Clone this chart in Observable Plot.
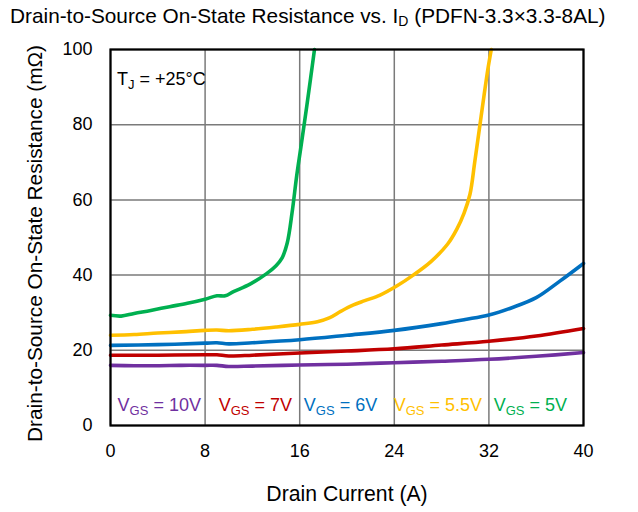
<!DOCTYPE html>
<html>
<head>
<meta charset="utf-8">
<script src="https://cdn.jsdelivr.net/npm/d3@7"></script>
<script src="https://cdn.jsdelivr.net/npm/@observablehq/plot@0.6"></script>
<style>
  html, body { margin: 0; padding: 0; background: #fff; }
  body { width: 638px; height: 512px; overflow: hidden; font-family: "Liberation Sans", Arial, sans-serif; }
  #title { height: 30px; font-size: 20.8px; line-height: 32px; padding-left: 10px; color: #000; white-space: nowrap; }
  #title sub { font-size: 14px; vertical-align: -3px; line-height: 0; }
  #chart svg { display: block; }
</style>
</head>
<body>
<div id="title">Drain-to-Source On-State Resistance vs. I<sub>D</sub> (PDFN-3.3×3.3-8AL)</div>
<div id="chart"></div>
<script>
// Drain current (A) and on-state resistance (mΩ) for each gate drive
const vgs10I = [0, 2, 4, 6, 8, 9, 10, 12, 16, 20, 24, 28, 32, 36, 40];
const vgs10R = [16.0, 15.9, 15.9, 16.0, 16.0, 16.0, 15.7, 15.8, 16.1, 16.3, 16.7, 17.1, 17.6, 18.4, 19.4];

const vgs7I = [0, 4, 8, 9, 10, 12, 16, 20, 24, 28, 32, 36, 40];
const vgs7R = [18.7, 18.7, 18.8, 18.8, 18.5, 18.7, 19.3, 19.8, 20.4, 21.4, 22.4, 23.8, 25.8];

const vgs6I = [0, 4, 8, 9, 10, 12, 16, 20, 24, 28, 30, 32, 34, 36, 38, 40];
const vgs6R = [21.3, 21.5, 21.9, 22.0, 21.7, 22.0, 22.8, 24.0, 25.3, 27.1, 28.2, 29.4, 31.4, 34.0, 38.4, 43.1];

const vgs55I = [0, 2, 4, 6, 8, 9, 10, 12, 14, 16, 17.5, 18.5, 19.5, 20.5, 21.5, 22.8, 24.2, 25.6, 27.1, 28.5, 29.3, 29.9, 30.4, 30.8, 31.2, 31.6, 31.9, 32.2];
const vgs55R = [24.0, 24.2, 24.6, 24.9, 25.3, 25.4, 25.2, 25.6, 26.2, 26.9, 27.6, 28.6, 30.4, 32.0, 33.2, 34.7, 37.1, 40.0, 43.6, 48.2, 52.3, 56.5, 61.5, 70.0, 79.0, 88.0, 94.5, 100];

const vgs5I = [0, 0.9, 2, 3.4, 5, 6.5, 8, 9, 9.7, 10.4, 11.8, 13.2, 14.0, 14.5, 14.95, 15.35, 15.75, 16.1, 16.6, 16.95, 17.25];
const vgs5R = [29.3, 29.1, 29.8, 30.6, 31.6, 32.5, 33.6, 34.5, 34.5, 35.6, 37.6, 40.4, 42.5, 44.5, 48.6, 56.5, 66.5, 74.0, 85.0, 93.0, 100];

const seriesNames = ["V_{GS} = 10V", "V_{GS} = 7V", "V_{GS} = 6V", "V_{GS} = 5.5V", "V_{GS} = 5V"];
const seriesColors = ["#7030A0", "#C00000", "#0070C0", "#FFC000", "#00B050"];
const legendX = [0.6, 9.15, 16.35, 23.95, 32.4]; // label start, in amps

const xTicks = [0, 8, 16, 24, 32, 40];
const yTicks = [0, 20, 40, 60, 80, 100];

const xLabel = "Drain Current (A)";
const yLabel = "Drain-to-Source On-State Resistance (mΩ)";
const tempNote = "T_{J} = +25°C";

const curves = [
  [vgs10I, vgs10R], [vgs7I, vgs7R], [vgs6I, vgs6R], [vgs55I, vgs55R], [vgs5I, vgs5R]
];
const rows = curves.flatMap(([xs, ys], k) => xs.map((x, i) => ({series: seriesNames[k], id: x, r: ys[i]})));
const legendRows = seriesNames.map((name, k) => ({name, x: legendX[k], color: seriesColors[k]}));

const font = "'Liberation Sans', Arial, sans-serif";

const chart = Plot.plot({
  width: 638,
  height: 482,
  marginTop: 19,
  marginLeft: 110,
  marginRight: 55,
  marginBottom: 87,
  style: {fontFamily: font, fontSize: "18px", color: "#000", background: "#fff"},
  x: {domain: [0, 40]},
  y: {domain: [0, 100]},
  color: {domain: seriesNames, range: seriesColors},
  marks: [
    Plot.gridX(xTicks, {stroke: "#7a7a7a", strokeOpacity: 1, strokeWidth: 1.5}),
    Plot.gridY(yTicks, {stroke: "#7a7a7a", strokeOpacity: 1, strokeWidth: 1.5}),
    Plot.axisX({ticks: xTicks, tickSize: 0, tickPadding: 19, fontSize: 18, label: null}),
    Plot.axisY({ticks: yTicks, tickSize: 0, tickPadding: 18, fontSize: 18, label: null}),
    Plot.line(rows, {x: "id", y: "r", z: "series", stroke: "series", strokeWidth: 3.6, curve: "catmull-rom"}),
    Plot.frame({stroke: "#000", strokeWidth: 2.2}),
    Plot.text(legendRows, {x: "x", y: 5.5, text: "name", fill: "color", textAnchor: "start", fontSize: 18}),
    Plot.text([tempNote], {x: 0.55, y: 92.2, text: d => d, fill: "#000", textAnchor: "start", fontSize: 18}),
    Plot.text([xLabel], {frameAnchor: "bottom", dy: 75, text: d => d, fill: "#000", textAnchor: "middle", fontSize: 21.2}),
    Plot.text([yLabel], {frameAnchor: "left", dx: -75, dy: 6, rotate: -90, text: d => d, fill: "#000", textAnchor: "middle", fontSize: 20.8})
  ]
});

// Render "_{...}" runs as subscripts
d3.select(chart).selectAll("text").each(function () {
  const node = d3.select(this);
  const s = node.text();
  if (!s.includes("_{")) return;
  node.text(null);
  const parts = s.split(/(_\{[^}]*\})/).filter(p => p.length);
  for (const p of parts) {
    if (p.startsWith("_{")) {
      node.append("tspan").attr("font-size", "13px").attr("baseline-shift", "-4px").text(p.slice(2, -1));
    } else {
      node.append("tspan").text(p);
    }
  }
});

document.getElementById("chart").appendChild(chart);
</script>
</body>
</html>
